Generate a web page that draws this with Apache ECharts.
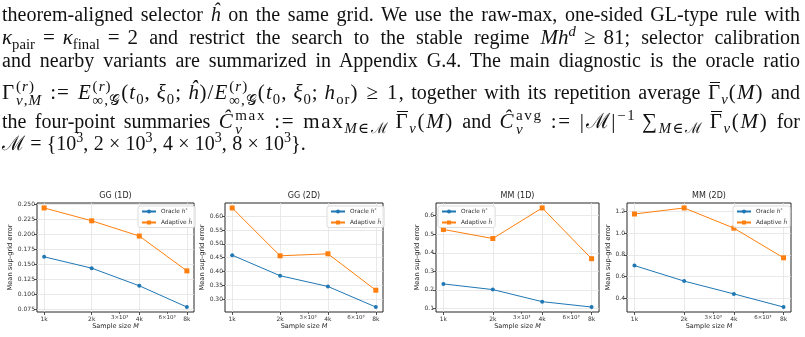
<!DOCTYPE html>
<html>
<head>
<meta charset="utf-8">
<script src="https://cdn.jsdelivr.net/npm/echarts@6/dist/echarts.min.js"></script>
<style>
  html, body { margin: 0; padding: 0; background: #fff; width: 805px; height: 337px; overflow: hidden; }
  #chart { position: absolute; left: 0; top: 0; width: 805px; height: 337px; }
  .ln {
    position: absolute; left: 2px; width: 798px; height: 22px;
    font-family: "Liberation Serif", "DejaVu Serif", serif; font-size: 20px; line-height: 22px;
    color: #111; text-align: justify; text-align-last: justify;
  }
  .ln.last { text-align-last: left; }
  .ln sub, .ln sup { font-size: 0.7em; line-height: 0; }
  .m { display: inline-block; font-size: 1.05em; }
  .mw { letter-spacing: 0.05em; }
  .mx { letter-spacing: 0.08em; }
  .r { margin: 0 0.38em; }
  .rs { margin: 0 0.26em; }
  .th { display: inline-block; width: 0.28em; }
  .ss {
    display: inline-block; vertical-align: -0.4em; font-size: 0.72em;
    line-height: 0.9; text-align: left; text-align-last: left; margin-left: 0.05em;
  }
  .bar { position: relative; }
  .bar::before {
    content: ""; position: absolute; left: 0.08em; right: 0.08em; top: 0.12em;
    border-top: 1px solid #111;
  }
</style>
</head>
<body>
<div id="chart"></div>

<div class="ln" style="top:3px">theorem-aligned selector <i>ĥ</i> on the same grid. We use the raw-max, one-sided GL-type rule with</div>
<div class="ln" style="top:26px"><span class="m"><i>κ</i><sub>pair</sub><span class="r">=</span><i>κ</i><sub>final</sub><span class="r">=</span>2</span> and restrict the search to the stable regime <span class="m"><i>Mh</i><sup><i>d</i></sup><span class="r">≥</span>81</span>; selector calibration</div>
<div class="ln" style="top:49px">and nearby variants are summarized in Appendix G.4. The main diagnostic is the oracle ratio</div>
<div class="ln" style="top:80px"><span class="m mw">Γ<span class="ss">(<i>r</i>)<br><i>ν</i>,<i>M</i></span><span class="r">:=</span><i>E</i><span class="ss">(<i>r</i>)<br>∞,𝒢</span>(<i>t</i><sub>0</sub>,<span class="th"></span><i>ξ</i><sub>0</sub>;<span class="th"></span><i>ĥ</i>)/<i>E</i><span class="ss">(<i>r</i>)<br>∞,𝒢</span>(<i>t</i><sub>0</sub>,<span class="th"></span><i>ξ</i><sub>0</sub>;<span class="th"></span><i>h</i><sub>or</sub>)<span class="r">≥</span>1</span>, together with its repetition average <span class="m mw"><span class="bar">Γ</span><sub><i>ν</i></sub>(<i>M</i>)</span> and</div>
<div class="ln" style="top:109px">the four-point summaries <span class="m mx"><i>Ĉ</i><span class="ss">max<br><i>ν</i></span><span class="r">:=</span>max<sub><i>M</i>∈ℳ</sub><span class="th"></span><span class="bar">Γ</span><sub><i>ν</i></sub>(<i>M</i>)</span> and <span class="m mx"><i>Ĉ</i><span class="ss">avg<br><i>ν</i></span><span class="r">:=</span>|ℳ|<sup>−1</sup><span class="th"></span>∑<sub><i>M</i>∈ℳ</sub><span class="th"></span><span class="bar">Γ</span><sub><i>ν</i></sub>(<i>M</i>)</span> for</div>
<div class="ln last" style="top:132px"><span class="m" style="font-size:1em">ℳ<span class="rs">=</span>{10<sup>3</sup>,<span class="th"></span>2<span class="rs">×</span>10<sup>3</sup>,<span class="th"></span>4<span class="rs">×</span>10<sup>3</sup>,<span class="th"></span>8<span class="rs">×</span>10<sup>3</sup>}</span>.</div>

<script>
// sample sizes on the log x axis, plus the labelled minor ticks
const SAMPLE_M = [1000, 2000, 4000, 8000];
const MAJOR_LABELS = ["1k", "2k", "4k", "8k"];
const MINOR_M = [3000, 6000];
const MINOR_LABELS = ["3×10³", "6×10³"];

const PANEL_TITLES = ["GG (1D)", "GG (2D)", "MM (1D)", "MM (2D)"];

// mean sup-grid error per panel
const ORACLE_GG1 = [0.1625, 0.1435, 0.114, 0.0784];
const ADAPTIVE_GG1 = [0.2443, 0.2228, 0.1973, 0.139];
const ORACLE_GG2 = [0.459, 0.3845, 0.3453, 0.2706];
const ADAPTIVE_GG2 = [0.6306, 0.4567, 0.464, 0.3318];
const ORACLE_MM1 = [0.232, 0.2014, 0.1362, 0.1072];
const ADAPTIVE_MM1 = [0.5257, 0.4768, 0.6417, 0.368];
const ORACLE_MM2 = [0.70, 0.556, 0.4375, 0.3156];
const ADAPTIVE_MM2 = [1.178, 1.234, 1.047, 0.772];

// y tick values per panel
const Y_TICKS_GG1 = [0.075, 0.1, 0.125, 0.15, 0.175, 0.2, 0.225, 0.25];
const Y_TICKS_GG2 = [0.3, 0.35, 0.4, 0.45, 0.5, 0.55, 0.6];
const Y_TICKS_MM1 = [0.1, 0.2, 0.3, 0.4, 0.5, 0.6];
const Y_TICKS_MM2 = [0.4, 0.6, 0.8, 1.0, 1.2];

const BLUE = "#1f77b4";
const ORANGE = "#ff7f0e";
const INK = "#262626";
const TICK_INK = "#333333";
const GRID_LINE = "#e3e3e3";
const FONT = "DejaVu Sans";

// layout of the four axes boxes (page pixels)
const PANELS = [
  { left: 37, width: 157, nameGap: 21, legendLeft: 138, oracle: ORACLE_GG1, adaptive: ADAPTIVE_GG1, ticks: Y_TICKS_GG1, dec: 3 },
  { left: 225, width: 158, nameGap: 18, legendLeft: 327, oracle: ORACLE_GG2, adaptive: ADAPTIVE_GG2, ticks: Y_TICKS_GG2, dec: 2 },
  { left: 436, width: 163, nameGap: 15, legendLeft: 438, oracle: ORACLE_MM1, adaptive: ADAPTIVE_MM1, ticks: Y_TICKS_MM1, dec: 1 },
  { left: 627, width: 164, nameGap: 14, legendLeft: 733, oracle: ORACLE_MM2, adaptive: ADAPTIVE_MM2, ticks: Y_TICKS_MM2, dec: 1 },
];
const PLOT_TOP = 203;
const PLOT_HEIGHT = 109;

// matplotlib-style 5% margins
function padded(lo, hi) {
  const m = (hi - lo) * 0.05;
  return [lo - m, hi + m];
}
const [X_MIN, X_MAX] = padded(Math.log10(SAMPLE_M[0]), Math.log10(SAMPLE_M[SAMPLE_M.length - 1]));

function pickLabel(values, labels, v) {
  for (let i = 0; i < values.length; i++) {
    if (Math.abs(Math.log10(values[i]) - v) < 1e-6) return labels[i];
  }
  return "";
}

const richItalic = {
  i: { fontStyle: "italic", fontFamily: FONT, fontSize: 5.8, color: TICK_INK },
  s: { fontFamily: FONT, fontSize: 4, color: TICK_INK, padding: [0, 0, 3, 0] },
};

const grid = [], xAxis = [], yAxis = [], series = [], title = [], legend = [];

PANELS.forEach((p, i) => {
  const allY = p.oracle.concat(p.adaptive);
  const [yMin, yMax] = padded(Math.min(...allY), Math.max(...allY));

  grid.push({
    left: p.left, top: PLOT_TOP, width: p.width, height: PLOT_HEIGHT,
    show: true, backgroundColor: "#fff", borderColor: INK, borderWidth: 1, z: 0,
  });

  title.push({
    text: PANEL_TITLES[i],
    left: p.left + p.width / 2, top: 192, textAlign: "center", padding: 0,
    textStyle: { fontFamily: FONT, fontSize: 8, fontWeight: "normal", color: INK },
  });

  // major ticks + gridlines
  xAxis.push({
    gridIndex: i, type: "value", position: "bottom", min: X_MIN, max: X_MAX,
    axisLine: { show: false, onZero: false },
    axisTick: { show: true, customValues: SAMPLE_M.map(Math.log10), length: 3, lineStyle: { color: INK, width: 0.8 } },
    axisLabel: {
      customValues: SAMPLE_M.map(Math.log10), margin: 4,
      formatter: (v) => pickLabel(SAMPLE_M, MAJOR_LABELS, v),
      fontFamily: FONT, fontSize: 6, color: TICK_INK,
    },
    splitLine: { show: true, lineStyle: { color: GRID_LINE, width: 0.8 } },
    name: "Sample size {i|M}", nameLocation: "middle", nameGap: 11,
    nameTextStyle: {
      fontFamily: FONT, fontSize: 6.5, color: INK, verticalAlign: "top",
      rich: { i: { fontStyle: "italic", fontFamily: FONT, fontSize: 6.5, color: INK } },
    },
  });
  // labelled minor ticks (3×10³, 6×10³)
  xAxis.push({
    gridIndex: i, type: "value", position: "bottom", min: X_MIN, max: X_MAX,
    axisLine: { show: false, onZero: false },
    axisTick: { show: true, customValues: MINOR_M.map(Math.log10), length: 2, lineStyle: { color: INK, width: 0.6 } },
    axisLabel: {
      customValues: MINOR_M.map(Math.log10), margin: 3,
      formatter: (v) => pickLabel(MINOR_M, MINOR_LABELS, v),
      fontFamily: FONT, fontSize: 5.5, color: TICK_INK,
    },
    splitLine: { show: false },
  });

  yAxis.push({
    gridIndex: i, type: "value", min: yMin, max: yMax,
    axisLine: { show: false },
    axisTick: { show: true, customValues: p.ticks, length: 3, lineStyle: { color: INK, width: 0.8 } },
    axisLabel: {
      customValues: p.ticks, margin: 2,
      formatter: (v) => Number(v).toFixed(p.dec),
      fontFamily: FONT, fontSize: 6, color: TICK_INK,
    },
    splitLine: { show: true, lineStyle: { color: GRID_LINE, width: 0.8 } },
    name: "Mean sup-grid error", nameLocation: "middle", nameGap: p.nameGap, nameRotate: 90,
    nameTextStyle: { fontFamily: FONT, fontSize: 6.7, color: INK },
  });

  series.push({
    name: "Oracle", type: "line", xAxisIndex: 2 * i, yAxisIndex: i,
    data: SAMPLE_M.map((m, k) => [Math.log10(m), p.oracle[k]]),
    symbol: "circle", symbolSize: 4,
    lineStyle: { color: BLUE, width: 1 }, itemStyle: { color: BLUE },
  });
  series.push({
    name: "Adaptive", type: "line", xAxisIndex: 2 * i, yAxisIndex: i,
    data: SAMPLE_M.map((m, k) => [Math.log10(m), p.adaptive[k]]),
    symbol: "rect", symbolSize: 5,
    lineStyle: { color: ORANGE, width: 1 }, itemStyle: { color: ORANGE },
  });

  legend.push({
    left: p.legendLeft, top: 206, orient: "vertical",
    data: ["Oracle", "Adaptive"], selectedMode: false,
    itemWidth: 14, itemHeight: 5, itemGap: 5, padding: [2, 3, 2, 3],
    backgroundColor: "rgba(255,255,255,0.85)", borderColor: "#d4d4d4", borderWidth: 0.8, borderRadius: 2,
    textStyle: { fontFamily: FONT, fontSize: 5.8, color: TICK_INK, rich: richItalic },
    formatter: (n) => (n === "Oracle" ? "Oracle {i|h}{s|*}" : "Adaptive {i|ĥ}"),
  });
});

const chart = echarts.init(document.getElementById("chart"), null, { renderer: "canvas" });
chart.setOption({
  animation: false,
  backgroundColor: "#fff",
  title, legend, grid, xAxis, yAxis, series,
});
</script>
</body>
</html>
